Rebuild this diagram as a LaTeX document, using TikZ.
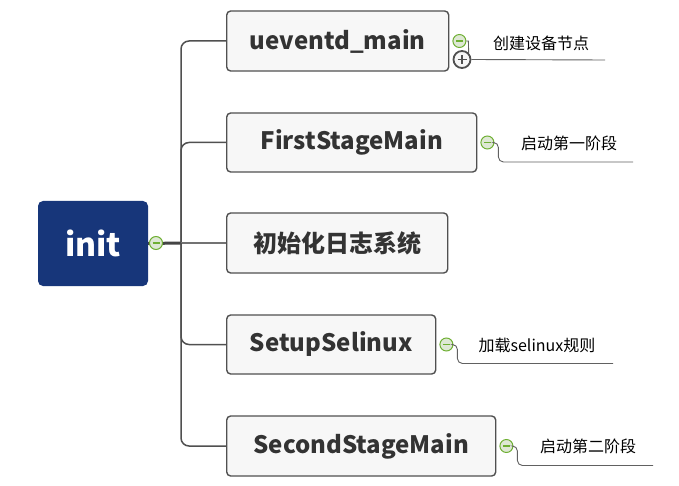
\documentclass[tikz,border=0pt]{standalone}
\usepackage{fontspec}
\setmainfont{Noto Sans CJK SC}
\usetikzlibrary{positioning}

\definecolor{rootblue}{RGB}{23,54,122}
\definecolor{boxfill}{RGB}{247,247,247}
\definecolor{boxline}{RGB}{80,80,80}
\definecolor{textgray}{RGB}{51,51,51}
\definecolor{minusgreen}{RGB}{110,175,50}
\definecolor{minusfill}{RGB}{222,232,212}

\tikzset{
  topic/.style={rectangle, rounded corners=4pt, draw=boxline, line width=1.4pt, fill=boxfill,
    text=textgray, font=\fontsize{24}{28}\selectfont\bfseries, minimum height=60pt, anchor=west},
  subtopic/.style={text=black, font=\fontsize{16}{19}\selectfont},
  branch/.style={draw=boxline, line width=1.5pt, rounded corners=8pt},
  leafline/.style={draw=boxline!90, line width=0.9pt, rounded corners=5pt},
  collapse/.style={circle, draw=minusgreen, line width=1pt, fill=minusfill, inner sep=0pt, minimum size=13pt,
    path picture={\draw[minusgreen, line width=1.2pt] ([xshift=-3.5pt]path picture bounding box.center) -- ([xshift=3.5pt]path picture bounding box.center);}},
  expand/.style={circle, draw=boxline, line width=1.8pt, fill=boxfill, inner sep=0pt, minimum size=17pt,
    path picture={\draw[boxline, line width=1.8pt] ([xshift=-4.5pt]path picture bounding box.center) -- ([xshift=4.5pt]path picture bounding box.center)
      ([yshift=-4.5pt]path picture bounding box.center) -- ([yshift=4.5pt]path picture bounding box.center);}}
}

\begin{document}
\begin{tikzpicture}[x=1pt, y=-1pt]
    \useasboundingbox (0,0) rectangle (679,486);

    % central topic
    \node (init) [rectangle, rounded corners=5pt, fill=rootblue, text=white, font=\fontsize{32}{36}\selectfont\bfseries,
      minimum width=110pt, minimum height=85pt] at (93,243.5) {init};
    \coordinate (hub) at (181,243);

    % main topics
    \node (ueventd) [topic, minimum width=222pt] at (226,41) {ueventd\_main};
    \node (first) [topic, minimum width=250pt, minimum height=59pt] at (226,142.5) {FirstStageMain};
    \node (log) [topic, minimum width=221pt] at (226,243) {初始化日志系统};
    \node (selinux) [topic, minimum width=209pt, minimum height=59pt] at (226,344.5) {SetupSelinux};
    \node (second) [topic, minimum width=269pt] at (226,446) {SecondStageMain};

    % branches
    \draw[line width=3pt, draw=boxline!85!black] (init.east) -- (hub);
    \draw[branch] (hub) |- (ueventd.west);
    \draw[branch] (hub) |- (first.west);
    \draw[branch, line width=1.2pt, draw=boxline!80] (hub) -- (log.west);
    \draw[branch] (hub) |- (selinux.west);
    \draw[branch] (hub) |- (second.west);

    % subtopics
    \node (c1) [collapse, right=3pt of ueventd.east] {};
    \node (p1) [expand] at (462,59.5) {};
    \node (t1) [subtopic] at (541,43) {创建设备节点};
    \coordinate (e1) at (605,60);
    \draw[leafline, sharp corners] (c1.east) -- ++(2,0) -- (p1.north east);
    \draw[leafline] (p1.east) -- (e1);

    \node (c2) [collapse, right=3pt of first.east] {};
    \node (t2) [subtopic] at (569,143) {启动第一阶段};
    \coordinate (e2) at (633,162);
    \draw[leafline] (c2.east) -- ++(4,0) |- (e2);

    \node (c4) [collapse, right=3pt of selinux.east] {};
    \node (t4) [subtopic] at (537,345) {加载selinux规则};
    \coordinate (e4) at (613,363.5);
    \draw[leafline] (c4.east) -- ++(4,0) |- (e4);

    \node (c5) [collapse, right=3pt of second.east] {};
    \node (t5) [subtopic] at (588,446) {启动第二阶段};
    \coordinate (e5) at (653,465.5);
    \draw[leafline] (c5.east) -- ++(4,0) |- (e5);

    % collapse marker of the root
    \node (c0) [collapse] at (156,243) {};

\end{tikzpicture}
\end{document}
